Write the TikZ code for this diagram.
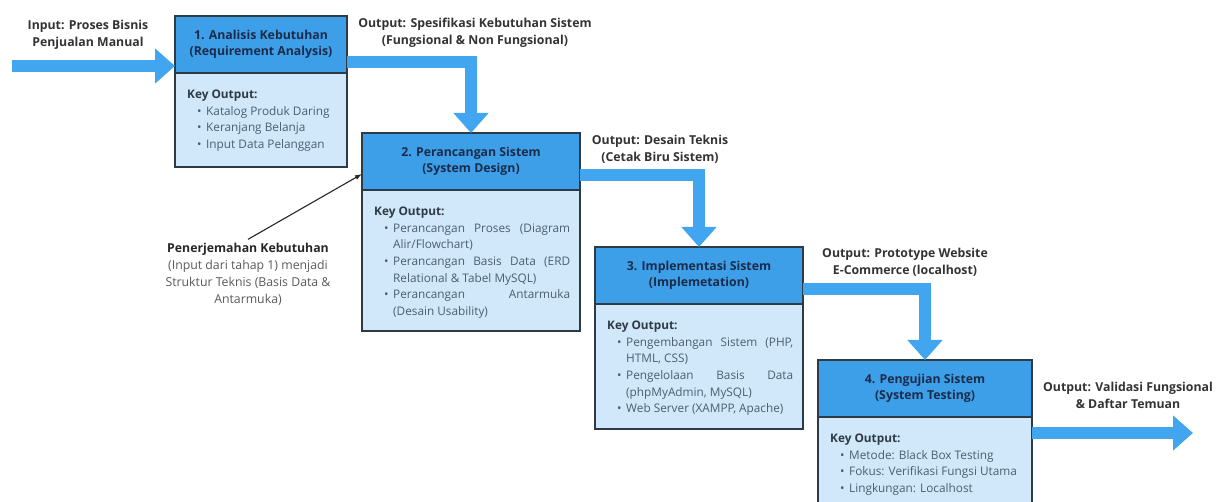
\documentclass[tikz,border=0pt]{standalone}
\usepackage{fontspec}
\setmainfont{Open Sans}
\usepackage{xcolor}
\usetikzlibrary{arrows.meta, positioning, calc}

\definecolor{flowblue}{HTML}{42A5F0}
\definecolor{headblue}{HTML}{3C9FE8}
\definecolor{bodyblue}{HTML}{D0E8FA}
\definecolor{edgegray}{HTML}{2E3A46}
\definecolor{headtext}{HTML}{1C2B4A}
\definecolor{itemtext}{HTML}{4C5D74}
\definecolor{lbltext}{HTML}{333333}

\newcommand{\kitem}[1]{\par\leftskip=19pt\noindent\llap{\makebox[9pt][l]{\textbullet}}#1\par}
\newcommand{\keyhead}{{\bfseries\color{edgegray}Key Output:}}

\tikzset{
  stagehead/.style={draw=edgegray, fill=headblue, line width=1.2pt, outer sep=0pt,
    minimum height=57pt, align=center, text=headtext,
    font=\bfseries\fontsize{12.3}{16.5}\selectfont},
  stagebody/.style={draw=edgegray, fill=bodyblue, line width=1.2pt, outer sep=0pt},
  keylist/.style={anchor=north west, inner sep=0pt, align=justify, text=itemtext,
    font=\fontsize{11.8}{16.6}\selectfont},
  flow/.style={draw=flowblue, line width=12pt, -{Triangle[length=20pt, width=34pt]}},
  flowlbl/.style={align=center, text=lbltext, font=\bfseries\fontsize{12.3}{17}\selectfont},
}

\begin{document}
\begin{tikzpicture}[x=1pt, y=-1pt]

    \clip (0,0) rectangle (1220,502);

    % tahap 1
    \node[stagehead, minimum width=172pt, anchor=north west] (h1) at (175,16)
        {1. Analisis Kebutuhan\\(Requirement Analysis)};
    \node[stagebody, minimum width=172pt, minimum height=94pt, below=0pt of h1] (b1) {};
    \node[keylist, text width=150pt] (k1) at ($(b1.north west)+(12,17)$)
        {\keyhead
         \kitem{Katalog Produk Daring}
         \kitem{Keranjang Belanja}
         \kitem{Input Data Pelanggan}};

    % tahap 2
    \node[stagehead, minimum width=218pt, anchor=north west] (h2) at (362,133)
        {2. Perancangan Sistem\\(System Design)};
    \node[stagebody, minimum width=218pt, minimum height=141pt, below=0pt of h2] (b2) {};
    \node[keylist, text width=196pt] (k2) at ($(b2.north west)+(12,17)$)
        {\keyhead
         \kitem{Perancangan Proses (Diagram\linebreak Alir/Flowchart)}
         \kitem{Perancangan Basis Data (ERD\linebreak Relational \& Tabel MySQL)}
         \kitem{Perancangan Antarmuka\linebreak (Desain Usability)}};

    % tahap 3
    \node[stagehead, minimum width=208pt, anchor=north west] (h3) at (595,247)
        {3. Implementasi Sistem\\(Implemetation)};
    \node[stagebody, minimum width=208pt, minimum height=125pt, below=0pt of h3] (b3) {};
    \node[keylist, text width=186pt] (k3) at ($(b3.north west)+(12,17)$)
        {\keyhead
         \kitem{Pengembangan Sistem (PHP,\linebreak HTML, CSS)}
         \kitem{Pengelolaan Basis Data\linebreak (phpMyAdmin, MySQL)}
         \kitem{Web Server (XAMPP, Apache)}};

    % tahap 4
    \node[stagehead, minimum width=214pt, anchor=north west] (h4) at (818,360)
        {4. Pengujian Sistem\\(System Testing)};
    \node[stagebody, minimum width=214pt, minimum height=110pt, below=0pt of h4] (b4) {};
    \node[keylist, text width=192pt] (k4) at ($(b4.north west)+(12,17)$)
        {\keyhead
         \kitem{Metode: Black Box Testing}
         \kitem{Fokus: Verifikasi Fungsi Utama}
         \kitem{Lingkungan: Localhost}};

    % label input / output
    \node[flowlbl] (lin) at (88,35) {Input: Proses Bisnis\\Penjualan Manual};
    \node[flowlbl] (l1) at (475,33) {Output: Spesifikasi Kebutuhan Sistem\\(Fungsional \& Non Fungsional)};
    \node[flowlbl] (l2) at (660,149) {Output: Desain Teknis\\(Cetak Biru Sistem)};
    \node[flowlbl] (l3) at (905,262) {Output: Prototype Website\\E-Commerce (localhost)};
    \node[flowlbl] (l4) at (1128,395) {Output: Validasi Fungsional\\\& Daftar Temuan};

    % panah alur
    \coordinate (fin) at (12,66);
    \coordinate (o1) at ($(h1.south east)+(0,-11)$);
    \coordinate (o2) at ($(h2.south east)+(0,-15)$);
    \coordinate (o3) at ($(h3.south east)+(0,-15)$);
    \coordinate (fout) at (1193,433);
    \draw[flow] (fin) -- (fin -| h1.west);
    \draw[flow] (o1) -| (h2.north);
    \draw[flow] (o2) -| (h3.north);
    \draw[flow] (o3) -| (h4.north);
    \draw[flow] (fout -| b4.east) -- (fout);

    % catatan
    \node[align=center, text=black!65, font=\fontsize{12.3}{17}\selectfont] (note) at (248,274)
        {{\bfseries\color{black!85}Penerjemahan Kebutuhan}\\(Input dari tahap 1) menjadi\\Struktur Teknis (Basis Data \&\\Antarmuka)};
    \coordinate (nin) at ($(h2.south west)+(0,-16)$);
    \draw[-{Latex[length=7pt, width=5pt]}, line width=1.1pt, black!85] (note.north) -- (nin);

\end{tikzpicture}
\end{document}
